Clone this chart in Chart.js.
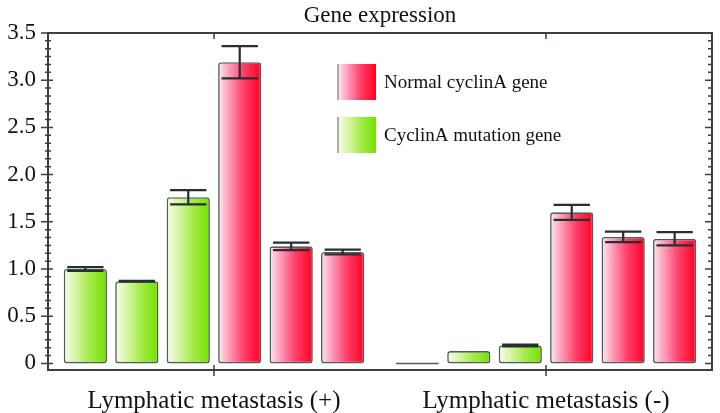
<!DOCTYPE html>
<html>
<head>
<meta charset="utf-8">
<title>Gene expression</title>
<script src="https://cdn.jsdelivr.net/npm/chart.js@4.4.1/dist/chart.umd.min.js"></script>
<style>
  html, body { margin: 0; padding: 0; background: #fff; }
  #wrap { width: 720px; height: 413px; }
</style>
</head>
<body>
<div id="wrap"><canvas id="geneChart"></canvas></div>
<script>
// categories on the x axis
const categories = ['Lymphatic metastasis (+)', 'Lymphatic metastasis (-)'];

// three mutation bars, then three normal bars, per category
const mutation1 = [1.00, 0.00];
const mutation2 = [0.87, 0.13];
const mutation3 = [1.76, 0.19];
const normal1 = [3.19, 1.60];
const normal2 = [1.24, 1.34];
const normal3 = [1.18, 1.32];

// error bar half-heights
const mutation1Err = [0.02, 0];
const mutation2Err = [0.005, 0];
const mutation3Err = [0.075, 0.01];
const normal1Err = [0.17, 0.08];
const normal2Err = [0.04, 0.055];
const normal3Err = [0.025, 0.07];

const yTicks = [0, 0.5, 1.0, 1.5, 2.0, 2.5, 3.0, 3.5];

const NORMAL = 'Normal cyclinA gene';
const MUTATION = 'CyclinA mutation gene';

const FONT = "'Liberation Serif', 'Times New Roman', serif";

const greenStops = [[0, '#f7fce9'], [0.25, '#dbf6ad'], [0.6, '#a4ec48'], [1, '#74e000']];
const redStops = [[0, '#ffeaf1'], [0.25, '#ff9dba'], [0.6, '#ff3d68'], [1, '#ff0020']];

function barFill(stops) {
    return (c) => {
        const el = c.element;
        if (!el || !isFinite(el.x) || !isFinite(el.width)) return stops[stops.length - 1][1];
        const g = c.chart.ctx.createLinearGradient(el.x - el.width / 2, 0, el.x + el.width / 2, 0);
        stops.forEach(([o, col]) => g.addColorStop(o, col));
        return g;
    };
}

function makeSet(label, data, errors, stops) {
    return {
        label: label,
        data: data,
        errors: errors,
        stops: stops,
        backgroundColor: barFill(stops),
        borderColor: '#4f5c5c',
        borderWidth: 1.6,
        borderRadius: 3,
        borderSkipped: false,
        minBarLength: 2,
        categoryPercentage: 0.93,
        barPercentage: 0.84
    };
}

// error bars on top of the bars
const errorBars = {
    id: 'errorBars',
    afterDatasetsDraw(chart) {
        const { ctx } = chart;
        const y = chart.scales.y;
        ctx.save();
        ctx.strokeStyle = '#263030';
        ctx.lineWidth = 2.2;
        chart.data.datasets.forEach((ds, i) => {
            chart.getDatasetMeta(i).data.forEach((bar, j) => {
                const e = ds.errors[j];
                if (!e) return;
                const v = ds.data[j];
                const top = y.getPixelForValue(v + e);
                const bot = y.getPixelForValue(v - e);
                const half = bar.width * 0.42;
                ctx.beginPath();
                ctx.moveTo(bar.x, top); ctx.lineTo(bar.x, bot);
                ctx.moveTo(bar.x - half, top); ctx.lineTo(bar.x + half, top);
                ctx.moveTo(bar.x - half, bot); ctx.lineTo(bar.x + half, bot);
                ctx.stroke();
            });
        });
        ctx.restore();
    }
};

// box frame, tick marks and the in-plot legend
const frame = {
    id: 'frame',
    afterDraw(chart) {
        const { ctx, chartArea: a } = chart;
        const { x, y } = chart.scales;
        ctx.save();
        ctx.strokeStyle = '#3a3f3f';
        ctx.lineWidth = 2;
        ctx.strokeRect(a.left, a.top, a.right - a.left, a.bottom - a.top);

        ctx.lineWidth = 1.5;
        ctx.beginPath();
        yTicks.forEach(v => {
            const py = y.getPixelForValue(v);
            ctx.moveTo(a.left - 7, py); ctx.lineTo(a.left + 5, py);
            ctx.moveTo(a.right - 7, py); ctx.lineTo(a.right, py);
        });
        const minorStep = 0.5 / 6;
        for (let k = 1; k < 42; k++) {
            if (k % 6 === 0) continue;
            const py = y.getPixelForValue(k * minorStep);
            ctx.moveTo(a.left - 3, py); ctx.lineTo(a.left + 3, py);
            ctx.moveTo(a.right - 4, py); ctx.lineTo(a.right, py);
        }
        categories.forEach((_, i) => {
            const px = x.getPixelForValue(i);
            ctx.moveTo(px, a.bottom - 5); ctx.lineTo(px, a.bottom + 6);
            ctx.moveTo(px, a.top); ctx.lineTo(px, a.top + 6);
        });
        ctx.stroke();

        // legend
        const entries = [
            { label: NORMAL, stops: redStops },
            { label: MUTATION, stops: greenStops }
        ];
        const lx = a.left + 290;
        ctx.font = '19px ' + FONT;
        ctx.textBaseline = 'middle';
        ctx.textAlign = 'left';
        entries.forEach((e, k) => {
            const by = a.top + 31 + k * 53;
            const g = ctx.createLinearGradient(lx, 0, lx + 38, 0);
            e.stops.forEach(([o, col]) => g.addColorStop(o, col));
            ctx.fillStyle = g;
            ctx.fillRect(lx, by, 38, 36);
            ctx.strokeStyle = '#8a9494';
            ctx.lineWidth = 1.5;
            ctx.beginPath();
            ctx.moveTo(lx, by); ctx.lineTo(lx, by + 36);
            ctx.stroke();
            ctx.fillStyle = '#111';
            ctx.fillText(e.label, lx + 46, by + 19);
        });
        ctx.restore();
    }
};

const chart = new Chart(document.getElementById('geneChart'), {
    type: 'bar',
    data: {
        labels: categories,
        datasets: [
            makeSet(MUTATION, mutation1, mutation1Err, greenStops),
            makeSet(MUTATION, mutation2, mutation2Err, greenStops),
            makeSet(MUTATION, mutation3, mutation3Err, greenStops),
            makeSet(NORMAL, normal1, normal1Err, redStops),
            makeSet(NORMAL, normal2, normal2Err, redStops),
            makeSet(NORMAL, normal3, normal3Err, redStops)
        ]
    },
    options: {
        responsive: true,
        maintainAspectRatio: false,
        animation: false,
        layout: { padding: { left: 0, right: 8, top: 0, bottom: 0 } },
        plugins: {
            legend: { display: false },
            tooltip: { enabled: false },
            title: {
                display: true,
                text: 'Gene expression',
                fullSize: false,
                color: '#111',
                font: { family: FONT, size: 23, weight: 'normal', lineHeight: 1 },
                padding: { top: 4, bottom: 6 }
            }
        },
        scales: {
            x: {
                grid: { display: false },
                border: { display: false },
                ticks: {
                    color: '#111',
                    font: { family: FONT, size: 25 },
                    padding: 8,
                    maxRotation: 0
                },
                afterFit: s => { s.height = 43; }
            },
            y: {
                min: -0.07,
                max: 3.5,
                grid: { display: false, drawTicks: false },
                border: { display: false },
                afterBuildTicks: s => { s.ticks = yTicks.map(v => ({ value: v })); },
                ticks: {
                    color: '#111',
                    font: { family: FONT, size: 23 },
                    padding: 12,
                    callback: v => (v === 0 ? '0' : Number(v).toFixed(1))
                },
                afterFit: s => { s.width = 48; }
            }
        }
    },
    plugins: [errorBars, frame]
});

// second pass so each bar's gradient follows its own position
chart.update();
</script>
</body>
</html>
